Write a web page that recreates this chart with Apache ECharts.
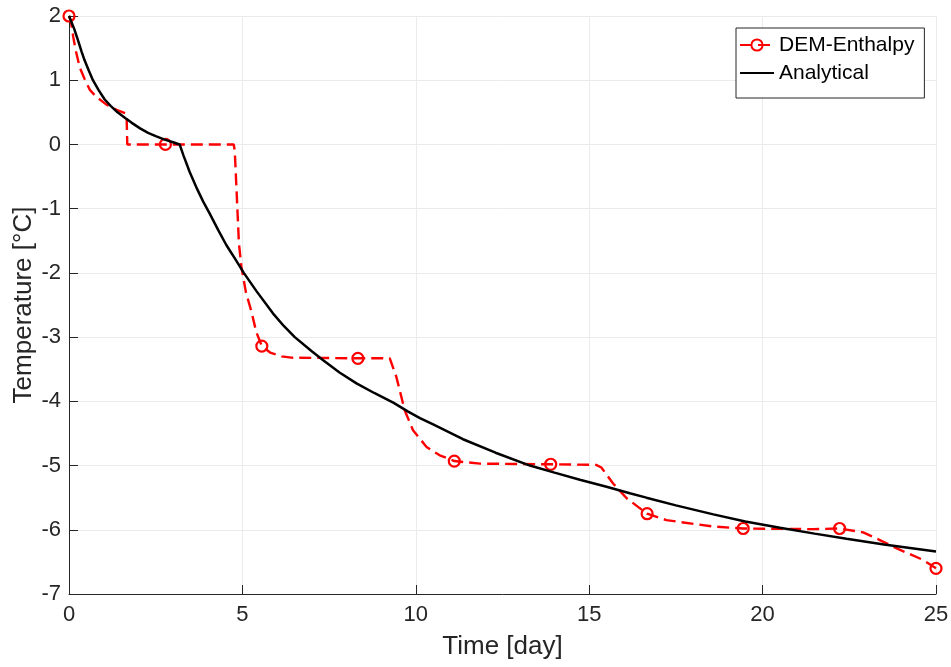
<!DOCTYPE html>
<html>
<head>
<meta charset="utf-8">
<script src="https://cdn.jsdelivr.net/npm/echarts@6/dist/echarts.min.js"></script>
<style>
html,body{margin:0;padding:0;background:#fff;}
#chart{width:951px;height:667px;}
</style>
</head>
<body>
<div id="chart"></div>
<script>
// ---- data ----
var xTicks = [0, 5, 10, 15, 20, 25];
var yTicks = [-7, -6, -5, -4, -3, -2, -1, 0, 1, 2];

var demTime = [0, 0.05, 0.12, 0.2, 0.31, 0.45, 0.6, 0.79, 1.08, 1.37, 1.66, 1.68, 2.78, 4.75, 4.78, 4.9, 4.97, 5.1, 5.26, 5.4, 5.56, 5.8, 6.13, 6.41, 8.33, 9.25, 9.44, 9.68, 9.92, 10.31, 10.69, 11.11, 11.85, 13.89, 15.2, 15.35, 15.69, 16.08, 16.67, 17.23, 18.58, 19.44, 21.46, 22.22, 22.9, 23.38, 23.87, 24.63, 25];
var demTemp = [2.0, 1.93, 1.68, 1.45, 1.2, 1.02, 0.85, 0.74, 0.62, 0.54, 0.48, 0.0, 0.0, 0.0, -0.1, -1.54, -1.9, -2.3, -2.6, -2.92, -3.14, -3.24, -3.30, -3.32, -3.33, -3.33, -3.62, -4.14, -4.45, -4.71, -4.84, -4.93, -4.97, -4.98, -4.99, -5.03, -5.28, -5.51, -5.75, -5.85, -5.95, -5.98, -5.99, -5.98, -6.04, -6.16, -6.29, -6.47, -6.6];
var markerTime = [0, 2.78, 5.56, 8.33, 11.11, 13.89, 16.67, 19.44, 22.22, 25];

var anaTime = [0, 0.05, 0.15, 0.26, 0.36, 0.45, 0.57, 0.69, 0.85, 1.03, 1.2, 1.4, 1.6, 1.8, 2.05, 2.28, 2.5, 2.76, 3.0, 3.19, 3.3, 3.48, 3.7, 3.87, 4.05, 4.3, 4.54, 4.8, 5.04, 5.4, 5.88, 6.2, 6.51, 7.0, 7.33, 7.8, 8.29, 8.8, 9.35, 9.78, 10.12, 10.5, 11.36, 12.3, 13.29, 14.0, 14.73, 15.5, 16.17, 16.65, 17.5, 18.58, 19.5, 20.5, 21.5, 22.42, 23.5, 25];
var anaTemp = [2.0, 1.97, 1.80, 1.62, 1.45, 1.31, 1.15, 1.0, 0.85, 0.70, 0.60, 0.50, 0.42, 0.34, 0.25, 0.18, 0.13, 0.075, 0.035, 0.0, -0.17, -0.43, -0.70, -0.89, -1.07, -1.33, -1.57, -1.79, -2.0, -2.28, -2.63, -2.83, -3.0, -3.22, -3.36, -3.55, -3.72, -3.87, -4.02, -4.16, -4.26, -4.36, -4.59, -4.80, -5.0, -5.11, -5.22, -5.33, -5.43, -5.50, -5.62, -5.76, -5.87, -5.97, -6.06, -6.14, -6.23, -6.34];

// ---- build ----
var demData = demTime.map(function (t, i) {
  var isMarker = markerTime.indexOf(t) >= 0;
  return isMarker ? { value: [t, demTemp[i]] } : { value: [t, demTemp[i]], symbol: 'none' };
});
var anaData = anaTime.map(function (t, i) { return [t, anaTemp[i]]; });

var FONT = "'Liberation Sans', Arial, Helvetica, sans-serif";
var AX = '#262626';

var chart = echarts.init(document.getElementById('chart'), null, { renderer: 'canvas' });
chart.setOption({
  animation: false,
  backgroundColor: '#ffffff',
  textStyle: { fontFamily: FONT },
  grid: { left: 69, right: 15, top: 16, bottom: 73, containLabel: false, outerBoundsMode: 'none' },
  legend: {
    orient: 'vertical',
    left: 736,
    top: 28,
    backgroundColor: '#ffffff',
    borderColor: AX,
    borderWidth: 1,
    borderRadius: 0,
    padding: [5, 10, 13, 3],
    itemWidth: 34,
    itemHeight: 14,
    itemGap: 4,
    textStyle: { fontFamily: FONT, fontSize: 21, lineHeight: 24, color: '#000000' },
    data: ['DEM-Enthalpy', 'Analytical']
  },
  xAxis: {
    type: 'value',
    min: xTicks[0],
    max: xTicks[xTicks.length - 1],
    interval: xTicks[1] - xTicks[0],
    name: 'Time [day]',
    nameLocation: 'middle',
    nameGap: 40,
    nameMoveOverlap: false,
    nameTextStyle: { fontFamily: FONT, fontSize: 26, color: AX },
    axisLine: { show: true, onZero: false, lineStyle: { color: AX, width: 1 } },
    axisTick: { show: true, inside: true, length: 9, lineStyle: { color: AX } },
    axisLabel: { fontFamily: FONT, fontSize: 22, color: AX, margin: 10 },
    splitLine: { show: true, lineStyle: { color: '#ebebeb', width: 1 } }
  },
  yAxis: {
    type: 'value',
    min: yTicks[0],
    max: yTicks[yTicks.length - 1],
    interval: yTicks[1] - yTicks[0],
    name: 'Temperature [°C]',
    nameLocation: 'middle',
    nameGap: 32,
    nameMoveOverlap: false,
    nameTextStyle: { fontFamily: FONT, fontSize: 26, color: AX },
    axisLine: { show: true, onZero: false, lineStyle: { color: AX, width: 1 } },
    axisTick: { show: true, inside: true, length: 9, lineStyle: { color: AX } },
    axisLabel: { fontFamily: FONT, fontSize: 22, color: AX, margin: 8 },
    splitLine: { show: true, lineStyle: { color: '#ebebeb', width: 1 } }
  },
  series: [
    {
      name: 'DEM-Enthalpy',
      type: 'line',
      data: demData,
      symbol: 'circle',
      symbolSize: 11,
      showSymbol: true,
      showAllSymbol: true,
      clip: false,
      itemStyle: { color: 'rgba(255,255,255,0)', borderColor: '#ff0000', borderWidth: 2.2 },
      lineStyle: { color: '#ff0000', width: 2.4, type: [12, 6] },
      z: 2
    },
    {
      name: 'Analytical',
      type: 'line',
      data: anaData,
      symbol: 'none',
      itemStyle: { color: 'rgba(0,0,0,0)', borderWidth: 0 },
      lineStyle: { color: '#000000', width: 2.5 },
      z: 3
    }
  ]
});
</script>
</body>
</html>
